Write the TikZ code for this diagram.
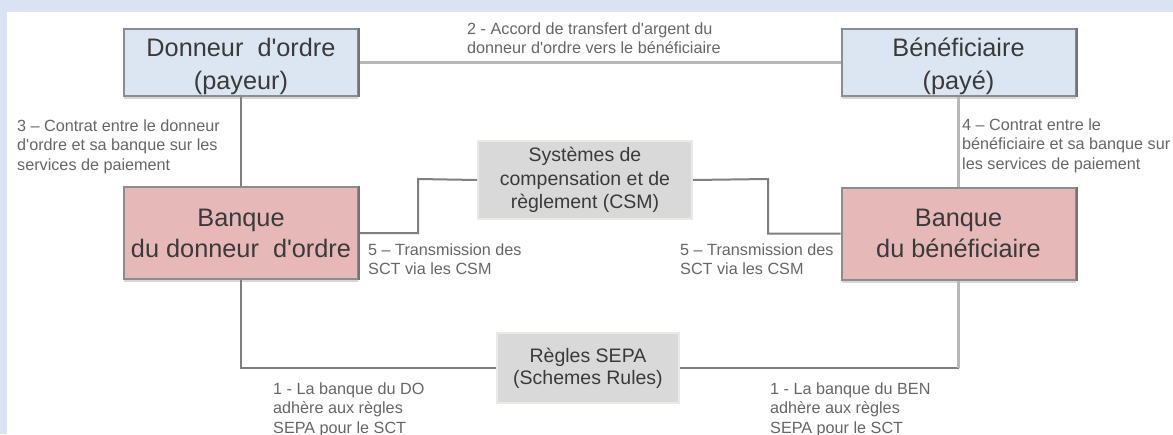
\documentclass[tikz,border=0pt]{standalone}
\usepackage{fontspec}
\setmainfont{Liberation Sans}[Ligatures=TeXOff]
\usetikzlibrary{shadows}

\definecolor{framebg}{HTML}{DAE3F3}
\definecolor{partyfill}{HTML}{DCE6F2}
\definecolor{bankfill}{HTML}{E6B9B8}
\definecolor{sysfill}{HTML}{D9D9D9}
\definecolor{sysedge}{HTML}{E9E9E6}
\definecolor{edge}{HTML}{8A8C90}
\definecolor{wirec}{HTML}{7F7F7F}
\definecolor{wirelight}{HTML}{B8B8B8}
\definecolor{maintext}{HTML}{3A3A3A}
\definecolor{notetext}{HTML}{666666}
\definecolor{shade}{HTML}{D6D6D6}

% invisible strut that lowers a two-line box label a little
\newcommand\boxlead{\rule{0pt}{27pt}}

\begin{document}
\begin{tikzpicture}[x=1pt,y=-1pt,
  box/.style={rectangle, inner sep=0pt, align=center, text=maintext,
    draw=edge, line width=2pt,
    general shadow={fill=shade, shadow yshift=-3pt}},
  party/.style={box, fill=partyfill, minimum width=234pt, minimum height=67pt,
    font=\fontsize{25.3}{33}\selectfont},
  bank/.style={box, fill=bankfill, minimum width=234pt, minimum height=92pt,
    font=\fontsize{25.3}{31}\selectfont},
  sys/.style={rectangle, inner sep=0pt, align=center, text=maintext,
    fill=sysfill, draw=sysedge, line width=2pt},
  note/.style={inner sep=0pt, align=left, anchor=north west, text=notetext,
    font=\fontsize{16.2}{19.5}\selectfont},
  wire/.style={draw=wirec, line width=2pt},
  softwire/.style={draw=wirelight, line width=3pt}]

\useasboundingbox (0,0) rectangle (1173,434);
\fill[framebg] (0,0) rectangle (1173,434);
\fill[white] (7,12) rectangle (1173,434);

% parties and their banks
\node[party] (don)  at (241,62.5)   {\boxlead Donneur~ d'ordre\\(payeur)};
\node[party] (ben)  at (958.5,62.5) {\boxlead Bénéficiaire\\(payé)};
\node[bank]  (bdo)  at (241,233)    {Banque\\du donneur~ d'ordre};
\node[bank]  (bben) at (958.5,233.5){Banque\\du bénéficiaire};

% clearing system and scheme rules
\node[sys, minimum width=214pt, minimum height=78pt,
      font=\fontsize{19.5}{23.5}\selectfont] (csm) at (585,180)
      {Systèmes de\\compensation et de\\règlement (CSM)};
\node[sys, minimum width=182pt, minimum height=70pt,
      font=\fontsize{19.5}{22}\selectfont] (sepa) at (588,368)
      {Règles SEPA\\(Schemes Rules)};

% junction points of the routed connectors
\coordinate (jl) at (418,179);
\coordinate (jr) at (768,179);
\coordinate (jb) at (bben.south |- sepa.east);

% connectors
\draw[softwire] (don) -- (ben);
\draw[wire] (don) -- (bdo);
\draw[softwire] (ben) -- (bben);
\draw[wire] (bdo.east) -| (jl) -- (csm.west);
\draw[wire] (bben.west) -| (jr) -- (csm.east);
\draw[wire] (bdo.south) |- (sepa.west);
\draw[wire] (sepa.east) -- (jb);
\draw[softwire] (bben.south) -- (jb);

% darker right edges of the boxes
\draw[line width=2pt, draw=black!55] (don.north east) -- (don.south east);
\draw[line width=2pt, draw=black!55] (ben.north east) -- (ben.south east);
\draw[line width=2pt, draw=black!55] (bdo.north east) -- (bdo.south east);
\draw[line width=2pt, draw=black!55] (bben.north east) -- (bben.south east);

% annotations
\node[note] (n2)  at (467,22.5)  {2 - Accord de transfert d'argent du\\donneur d'ordre vers le bénéficiaire};
\node[note] (n3)  at (17,119.5)  {3 – Contrat entre le donneur\\d'ordre et sa banque sur les\\services de paiement};
\node[note] (n4)  at (962,118.5) {4 – Contrat entre le\\bénéficiaire et sa banque sur\\les services de paiement};
\node[note] (n5l) at (368,243.5) {5 – Transmission des\\SCT via les CSM};
\node[note] (n5r) at (680,243.5) {5 – Transmission des\\SCT via les CSM};
\node[note] (n1l) at (273,382.5) {1 - La banque du DO\\adhère aux règles\\SEPA pour le SCT};
\node[note] (n1r) at (770,382.5) {1 - La banque du BEN\\adhère aux règles\\SEPA pour le SCT};
\end{tikzpicture}
\end{document}
